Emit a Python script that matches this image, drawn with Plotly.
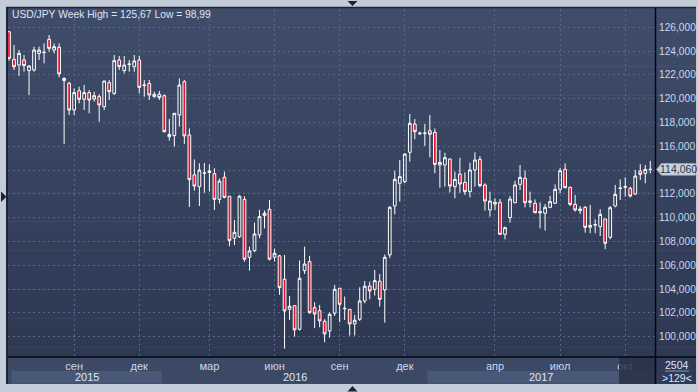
import plotly.graph_objects as go

# ---------------- data ----------------
chart_title = "USD/JPY Week High = 125,67 Low = 98,99"

opens = [125.63, 123.31, 122.83, 123.25, 122.36, 122.41, 123.81, 123.87, 124.99, 124.09,
         124.32, 121.52, 121.29, 119.05, 120.67, 119.95, 120.51, 119.97, 120.17, 119.33,
         121.35, 120.45, 123.25, 122.36, 122.87, 122.69, 123.25, 121.10, 121.29, 120.17,
         120.37, 120.25, 116.80, 116.90, 118.63, 121.43, 116.95, 113.60, 112.60, 113.73,
         113.80, 113.70, 111.54, 113.40, 111.80, 108.27, 108.40, 111.54, 106.67, 107.23,
         108.55, 110.17, 110.70, 106.67, 106.79, 104.82, 102.30, 102.61, 100.62, 105.55,
         106.31, 102.44, 102.19, 101.30, 100.48, 101.97, 104.07, 102.34, 102.30, 101.07,
         101.46, 103.00, 104.26, 103.98, 104.66, 103.93, 106.87, 110.98, 112.89, 113.03,
         115.49, 117.87, 117.05, 117.09, 117.31, 117.17, 114.43, 114.43, 114.93, 112.61,
         113.67, 112.97, 112.19, 114.01, 114.90, 112.75, 110.65, 111.15, 111.29, 108.60,
         110.00, 111.26, 112.80, 113.31, 111.29, 111.21, 110.40, 110.37, 110.87, 111.21,
         112.38, 114.06, 112.55, 111.12, 110.59, 110.87, 109.20, 109.38, 109.25, 109.89,
         108.35, 110.98, 112.45, 112.55, 112.47, 111.99, 113.92, 113.73, 114.06]

highs = [125.67, 124.51, 124.09, 123.67, 122.83, 124.37, 124.37, 124.65, 125.35, 124.65,
         124.65, 121.80, 121.43, 120.87, 121.01, 121.15, 120.73, 120.59, 120.37, 121.49,
         121.57, 123.67, 123.59, 123.59, 123.25, 123.67, 123.59, 121.57, 121.57, 120.59,
         120.65, 120.37, 118.30, 118.80, 121.70, 121.57, 117.50, 114.90, 114.57, 114.60,
         114.50, 114.15, 113.30, 113.87, 111.80, 109.80, 111.90, 111.80, 107.57, 109.58,
         110.65, 110.60, 111.49, 107.40, 106.87, 106.87, 103.42, 102.61, 106.40, 107.57,
         106.79, 102.89, 102.67, 101.46, 102.02, 104.35, 104.10, 103.37, 102.30, 101.83,
         104.15, 104.68, 104.63, 105.61, 105.27, 106.90, 110.98, 113.95, 114.85, 115.41,
         118.71, 118.29, 117.23, 117.87, 118.63, 117.50, 115.69, 115.46, 114.99, 113.87,
         115.04, 113.81, 114.62, 115.49, 115.18, 112.89, 112.19, 111.63, 111.57, 109.25,
         111.82, 113.11, 114.43, 113.95, 112.19, 111.54, 111.29, 111.15, 111.82, 112.80,
         114.20, 114.57, 112.61, 111.91, 110.98, 110.98, 111.07, 109.86, 110.70, 109.89,
         110.98, 112.75, 113.22, 113.39, 112.61, 114.01, 114.51, 114.43, 114.76]

lows = [123.20, 122.41, 121.91, 122.27, 120.31, 122.27, 123.25, 122.97, 123.95, 123.81,
        121.80, 116.20, 118.63, 118.63, 119.61, 119.05, 118.77, 119.75, 118.07, 119.05,
        119.89, 120.31, 122.41, 122.13, 122.27, 122.27, 120.45, 120.17, 119.89, 120.11,
        119.89, 117.15, 116.47, 115.97, 117.65, 116.20, 110.90, 112.27, 110.98, 112.10,
        112.20, 110.65, 111.20, 111.63, 107.60, 107.70, 108.30, 106.30, 105.55, 107.10,
        108.27, 109.10, 106.40, 106.31, 103.51, 98.99, 101.41, 100.00, 100.51, 105.27,
        101.91, 100.71, 100.79, 99.53, 99.92, 101.74, 101.21, 101.41, 100.09, 100.09,
        101.32, 102.81, 103.14, 103.45, 102.53, 101.18, 106.60, 110.28, 111.35, 112.90,
        114.71, 116.59, 116.95, 116.03, 115.07, 113.73, 112.52, 112.61, 112.13, 111.63,
        112.10, 111.91, 111.71, 112.61, 112.55, 110.59, 110.09, 110.65, 108.55, 108.18,
        109.58, 111.21, 112.33, 110.87, 110.87, 110.37, 109.10, 108.91, 110.79, 111.15,
        112.05, 112.47, 110.98, 110.51, 110.31, 108.74, 108.69, 108.69, 108.46, 107.35,
        108.18, 110.87, 111.49, 111.77, 111.71, 111.91, 113.17, 112.89, 113.73]

closes = [123.39, 122.69, 123.81, 122.78, 122.75, 124.09, 124.09, 123.90, 124.23, 124.37,
          122.08, 121.71, 119.05, 120.51, 119.95, 120.51, 119.89, 120.25, 119.47, 121.49,
          120.59, 123.20, 122.69, 122.83, 122.91, 123.17, 120.95, 121.15, 120.31, 120.37,
          120.09, 117.23, 117.00, 118.77, 121.15, 116.87, 113.20, 112.66, 114.00, 113.76,
          113.93, 111.54, 113.08, 111.71, 108.07, 108.77, 111.80, 106.51, 107.21, 108.63,
          110.09, 110.37, 106.51, 107.01, 104.12, 102.16, 102.56, 100.57, 104.91, 106.11,
          102.02, 101.91, 101.32, 100.23, 101.88, 103.98, 102.72, 102.38, 101.07, 101.38,
          103.00, 104.24, 103.84, 104.71, 103.14, 106.67, 110.87, 113.22, 113.45, 115.35,
          117.93, 117.23, 117.10, 117.11, 117.01, 114.48, 114.65, 115.04, 112.66, 113.22,
          112.83, 112.19, 114.01, 114.85, 112.69, 111.40, 111.40, 111.29, 108.60, 109.16,
          111.57, 112.75, 113.39, 111.26, 111.40, 110.42, 110.50, 110.87, 111.35, 112.38,
          113.95, 112.52, 111.12, 110.65, 110.73, 109.19, 109.35, 109.42, 110.28, 107.85,
          110.84, 111.96, 112.49, 112.61, 111.82, 113.50, 113.64, 114.06, 114.06]

bars = list(range(len(opens)))

month_tick_bars = [13, 26, 40, 53, 66, 79, 97, 110, 123]
month_tick_labels = ["сен", "дек", "мар", "июн", "сен", "дек", "апр", "июл", "окт"]
year_labels = ["2015", "2016", "2017"]
year_first_bars = [1, 31, 84]
price_tick_values = list(range(100, 127, 2))
history_bars_label = "2504"

# ---------------- geometry helpers (pixels -> paper) ----------------
W, H = 698, 392
PL, PR, PT, PB = 8, 655, 9, 357          # plot area in px
X_RANGE = [-0.2, 128.94]
Y_RANGE = [98.29, 127.54]


def fx(px):
    return (px - PL) / (PR - PL)


def fy(py):
    return (PB - py) / (PB - PT)


def bar_paper(k):
    return (k - X_RANGE[0]) / (X_RANGE[1] - X_RANGE[0])


def price_text(v):
    return ("%.3f" % v).replace(".", ",")


FONT = "Liberation Sans, Arial, sans-serif"
LABEL_COLOR = "#c9d7ef"

last = closes[-1]
# the last-price tag covers the nearest axis label, as in the original
price_tick_text = ["" if abs(v - last) < 1.0 else price_text(v) for v in price_tick_values]

shapes = []

# panel gradient background (plot + right axis column)
N = 36
top_rgb = (63, 77, 106)
bot_rgb = (45, 56, 83)
g_top, g_bot = 8, 357
for i in range(N):
    t = i / (N - 1)
    c = tuple(round(top_rgb[j] + (bot_rgb[j] - top_rgb[j]) * t) for j in range(3))
    y0 = g_top + (g_bot - g_top) * i / N
    y1 = g_top + (g_bot - g_top) * (i + 1) / N
    shapes.append(dict(type="rect", xref="paper", yref="paper", layer="below",
                       x0=fx(7), x1=fx(696), y0=fy(y1 + 0.5), y1=fy(y0),
                       fillcolor="rgb(%d,%d,%d)" % c, line=dict(width=0)))

# bottom time-axis row
shapes.append(dict(type="rect", xref="paper", yref="paper", layer="below",
                   x0=fx(7), x1=fx(655), y0=fy(384), y1=fy(357),
                   fillcolor="#3c4965", line=dict(width=0)))
# year bands (alternating)
band_edges = [k - 0.5 for k in year_first_bars] + [X_RANGE[1]]
for i in range(len(year_labels)):
    if i % 2 == 0:
        shapes.append(dict(type="rect", xref="paper", yref="paper", layer="below",
                           x0=bar_paper(band_edges[i]), x1=min(bar_paper(band_edges[i + 1]), 1.0),
                           y0=fy(383.5), y1=fy(371),
                           fillcolor="#4a5877", line=dict(width=0)))
# bottom-right info box
shapes.append(dict(type="rect", xref="paper", yref="paper", layer="below",
                   x0=fx(655), x1=fx(696), y0=fy(384), y1=fy(357),
                   fillcolor="#2f3a55", line=dict(width=0)))
shapes.append(dict(type="line", xref="paper", yref="paper", layer="above",
                   x0=fx(665), x1=fx(689), y0=fy(371), y1=fy(371),
                   line=dict(color="#8d9bb5", width=1)))
# dark overlay at right end of time axis
shapes.append(dict(type="rect", xref="paper", yref="paper", layer="above",
                   x0=fx(619), x1=fx(655), y0=fy(384), y1=fy(357),
                   fillcolor="rgba(38,47,70,0.82)", line=dict(width=0)))
# separators
shapes.append(dict(type="line", xref="paper", yref="paper", layer="above",
                   x0=fx(655.5), x1=fx(655.5), y0=fy(384), y1=fy(8),
                   line=dict(color="#05070c", width=1.5)))
shapes.append(dict(type="line", xref="paper", yref="paper", layer="above",
                   x0=fx(7), x1=fx(696), y0=fy(357), y1=fy(357),
                   line=dict(color="#05070c", width=1.5)))
# panel border
shapes.append(dict(type="line", xref="paper", yref="paper", layer="above",
                   x0=fx(7), x1=fx(7), y0=fy(384), y1=fy(7),
                   line=dict(color="#1d2432", width=2)))
shapes.append(dict(type="line", xref="paper", yref="paper", layer="above",
                   x0=fx(6), x1=fx(696), y0=fy(7.5), y1=fy(7.5),
                   line=dict(color="#1d2432", width=1.5)))


def tri(points):
    d = "M " + " L ".join("%f,%f" % (fx(a), fy(b)) for a, b in points) + " Z"
    return dict(type="path", xref="paper", yref="paper", layer="above", path=d,
                fillcolor="#1c2333", line=dict(width=0))


shapes.append(tri([(347.5, 1), (357.5, 1), (352.5, 6)]))
shapes.append(tri([(1, 191.5), (1, 202), (6.5, 196.8)]))
shapes.append(tri([(352.5, 386), (347.5, 391.5), (357.5, 391.5)]))

# last price marker (arrow-shaped tag on the price axis)
hh = 0.5
tag = ("M %f,%f L %f,%f L %f,%f L %f,%f L %f,%f Z" %
       (fx(656.5), last, fx(661.5), last + hh, fx(695.5), last + hh,
        fx(695.5), last - hh, fx(661.5), last - hh))
shapes.append(dict(type="path", xref="paper", yref="y", layer="above", path=tag,
                   fillcolor="#c8d0dc", line=dict(color="#aab4c4", width=0.5)))

annotations = [
    dict(text=chart_title, xref="paper", yref="paper", x=fx(10), y=fy(14.5),
         xanchor="left", yanchor="middle", showarrow=False,
         font=dict(family=FONT, size=10.3, color="#dbe5f6")),
    dict(text=price_text(last), xref="paper", yref="y",
         x=fx(678), y=last, xanchor="center", yanchor="middle", showarrow=False,
         font=dict(family=FONT, size=10.5, color="#2a3448")),
    dict(text=history_bars_label, xref="paper", yref="paper", x=fx(677), y=fy(364.5),
         xanchor="center", yanchor="middle", showarrow=False,
         font=dict(family=FONT, size=10.5, color="#dfe7f5")),
    dict(text=">%d<" % len(opens), xref="paper", yref="paper", x=fx(677), y=fy(377.5),
         xanchor="center", yanchor="middle", showarrow=False,
         font=dict(family=FONT, size=10.5, color="#dfe7f5")),
]
for i, lab in enumerate(year_labels):
    x_end = min(band_edges[i + 1], X_RANGE[1])
    centre = (band_edges[i] + x_end) / 2
    annotations.append(dict(text=lab, xref="paper", yref="paper", x=bar_paper(centre),
                            y=fy(377), xanchor="center", yanchor="middle", showarrow=False,
                            font=dict(family=FONT, size=11, color="#dde6f5")))

fig = go.Figure()
fig.add_trace(go.Candlestick(
    x=bars, open=opens, high=highs, low=lows, close=closes,
    increasing=dict(line=dict(color="#ffffff", width=1), fillcolor="rgba(0,0,0,0)"),
    decreasing=dict(line=dict(color="#ffffff", width=1), fillcolor="#e5132d"),
    whiskerwidth=0, showlegend=False, hoverinfo="skip",
))

fig.update_layout(
    width=W, height=H, autosize=False,
    margin=dict(l=PL, r=W - PR, t=PT, b=H - PB, pad=0, autoexpand=False),
    paper_bgcolor="#c3ccd9",
    plot_bgcolor="rgba(0,0,0,0)",
    separators=", ",
    boxgap=0.22,
    font=dict(family=FONT, size=11, color=LABEL_COLOR),
    shapes=shapes,
    annotations=annotations,
    showlegend=False,
    xaxis=dict(
        range=X_RANGE, rangeslider=dict(visible=False), type="linear",
        tickmode="array", tickvals=month_tick_bars, ticktext=month_tick_labels,
        showgrid=True, gridcolor="#58678a", griddash="2px,3px", gridwidth=1,
        zeroline=False, showline=False, ticks="", automargin=False,
        tickfont=dict(family=FONT, size=11, color=LABEL_COLOR),
        ticklabelstandoff=1,
    ),
    yaxis=dict(
        range=Y_RANGE, side="right", tickmode="array", tickvals=price_tick_values,
        ticktext=price_tick_text, showgrid=True, gridcolor="#58678a", griddash="2px,3px",
        gridwidth=1, zeroline=False, showline=False, ticks="", automargin=False,
        tickfont=dict(family=FONT, size=10.2, color=LABEL_COLOR),
        ticklabelstandoff=3,
    ),
)

fig.write_html(
    "out.html",
    config={"displayModeBar": False, "staticPlot": True},
    post_script="document.body.style.margin='0';document.body.style.padding='0';"
                "document.body.style.overflow='hidden';",
)
